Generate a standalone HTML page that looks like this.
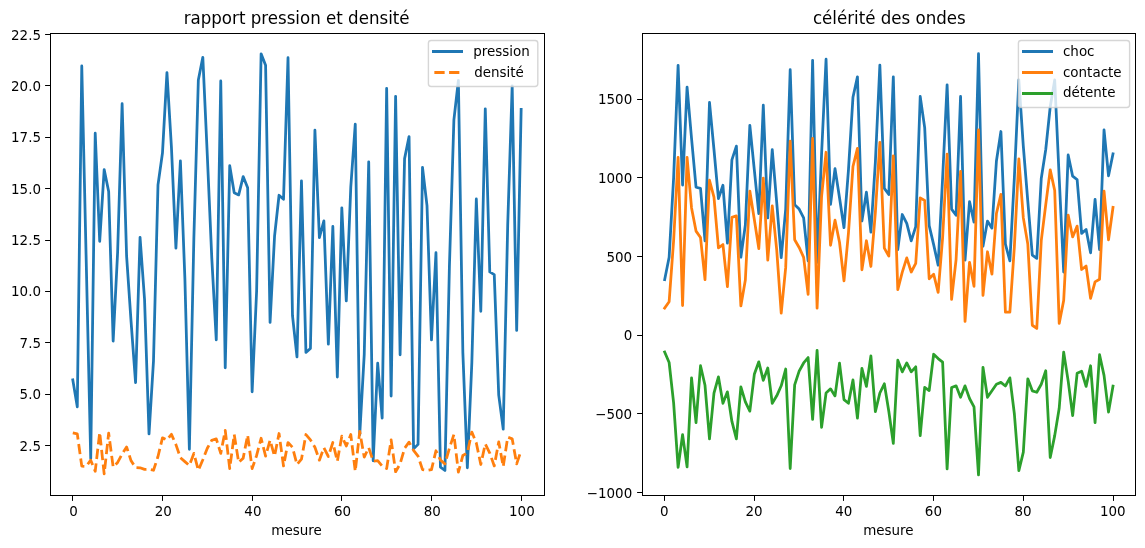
<!DOCTYPE html>
<html lang="fr"><head><meta charset="utf-8"><title>rapport pression et densité / célérité des ondes</title>
<style>html,body{margin:0;padding:0;background:#fff;}svg{display:block;will-change:transform;}text{font-family:"DejaVu Sans", "Liberation Sans", sans-serif;fill:#000;}</style></head><body>
<svg width="1145" height="548" viewBox="0 0 1145 548">
<rect x="0" y="0" width="1145" height="548" fill="#ffffff"/>
<defs>
<clipPath id="cl"><rect x="50.50" y="33.50" width="494.00" height="462.00"/></clipPath>
<clipPath id="cr"><rect x="642.50" y="33.50" width="493.00" height="462.00"/></clipPath>
</defs>
<polyline clip-path="url(#cl)" fill="none" stroke="#1f77b4" stroke-width="2.78" stroke-linejoin="round" stroke-linecap="square" points="72.80,379.92 77.28,406.78 81.77,65.92 86.25,262.28 90.73,458.51 95.22,133.26 99.70,241.31 104.18,169.60 108.67,191.45 113.15,341.08 117.63,252.02 122.12,103.70 126.60,256.12 131.09,321.82 135.57,382.55 140.05,237.35 144.54,299.24 149.02,433.88 153.50,360.83 157.99,184.88 162.47,153.06 166.95,72.70 171.44,147.31 175.92,248.08 180.40,160.77 184.89,278.71 189.37,449.27 193.85,238.67 198.34,79.98 202.82,57.30 207.31,155.53 211.79,258.18 216.27,339.85 220.76,80.91 225.24,367.77 229.72,165.70 234.21,192.69 238.69,194.91 243.17,176.58 247.66,187.76 252.14,391.79 256.62,291.02 261.11,53.81 265.59,65.19 270.07,322.40 274.56,236.21 279.04,195.26 283.52,199.22 288.01,57.71 292.49,315.66 296.98,356.89 301.46,180.89 305.94,352.37 310.43,348.51 314.91,130.18 319.39,237.61 323.88,220.92 328.36,344.16 332.84,226.47 337.33,377.01 341.81,207.78 346.29,300.84 350.78,187.14 355.26,124.02 359.74,434.70 364.23,354.67 368.71,161.80 373.19,460.77 377.68,363.20 382.16,418.07 386.65,88.30 391.13,396.10 395.61,96.31 400.10,354.84 404.58,158.61 409.06,136.54 413.55,448.86 418.03,444.38 422.51,167.34 427.00,205.62 431.48,339.85 435.96,252.74 440.45,467.17 444.93,470.42 449.41,266.39 453.90,119.80 458.38,80.29 462.86,352.62 467.35,467.75 471.83,362.88 476.32,198.96 480.80,311.31 485.28,108.83 489.77,271.93 494.25,274.60 498.73,395.11 503.22,429.15 507.70,225.33 512.18,85.84 516.67,330.41 521.15,109.33"/>
<polyline clip-path="url(#cl)" fill="none" stroke="#ff7f0e" stroke-width="2.78" stroke-linejoin="round" stroke-dasharray="10.28 4.44" stroke-linecap="butt" points="72.80,432.89 77.28,433.91 81.77,466.15 86.25,466.35 90.73,460.19 95.22,471.28 99.70,432.48 104.18,473.95 108.67,433.09 113.15,466.97 117.63,462.45 122.12,454.03 126.60,447.05 131.09,460.81 135.57,467.58 140.05,467.79 144.54,469.43 149.02,469.23 153.50,470.25 157.99,456.50 162.47,437.81 166.95,439.87 171.44,434.32 175.92,444.59 180.40,457.73 184.89,461.63 189.37,465.53 193.85,453.42 198.34,470.25 202.82,459.78 207.31,448.28 211.79,440.28 216.27,438.84 220.76,453.42 225.24,430.42 229.72,468.61 234.21,434.53 238.69,462.45 243.17,458.14 247.66,435.15 252.14,468.61 256.62,455.47 261.11,438.23 265.59,456.09 270.07,440.28 274.56,456.09 279.04,433.50 283.52,465.94 288.01,442.54 292.49,447.26 296.98,464.50 301.46,459.17 305.94,434.53 310.43,439.87 314.91,447.26 319.39,460.19 323.88,447.67 328.36,456.50 332.84,442.54 337.33,461.22 341.81,436.17 346.29,446.03 350.78,434.53 355.26,471.28 359.74,431.45 364.23,457.11 368.71,447.67 373.19,461.22 377.68,460.60 382.16,465.94 386.65,468.61 391.13,439.87 395.61,471.69 400.10,463.89 404.58,448.28 409.06,442.13 413.55,450.34 418.03,456.09 422.51,469.64 427.00,470.46 431.48,469.64 435.96,450.75 440.45,459.99 444.93,463.89 449.41,448.28 453.90,434.53 458.38,472.10 462.86,455.47 467.35,452.80 471.83,432.07 476.32,442.95 480.80,464.50 485.28,443.97 489.77,453.01 494.25,465.94 498.73,441.92 503.22,466.56 507.70,437.20 512.18,438.84 516.67,463.89 521.15,450.34"/>
<polyline clip-path="url(#cr)" fill="none" stroke="#1f77b4" stroke-width="2.78" stroke-linejoin="round" stroke-linecap="square" points="664.65,279.67 669.13,257.34 673.62,177.80 678.10,65.33 682.58,185.07 687.07,87.18 691.55,138.50 696.03,187.23 700.52,188.33 705.00,240.88 709.49,102.43 713.97,149.50 718.45,198.59 722.94,185.27 727.42,243.08 731.90,159.88 736.39,146.13 740.87,257.23 745.35,224.96 749.84,125.38 754.32,169.94 758.80,213.53 763.29,105.26 767.77,217.93 772.25,149.59 776.74,202.95 781.22,257.70 785.70,209.24 790.19,69.73 794.67,204.68 799.15,209.08 803.64,217.89 808.12,260.84 812.61,60.30 817.09,262.42 821.57,154.22 826.06,59.20 830.54,204.25 835.02,168.61 839.51,197.76 843.99,227.67 848.47,169.94 852.96,97.31 857.44,76.81 861.92,221.07 866.41,192.19 870.89,232.08 875.37,162.08 879.86,65.17 884.34,188.33 888.83,194.51 893.31,76.81 897.79,249.68 902.28,214.51 906.76,223.39 911.24,240.88 915.73,226.69 920.21,96.46 924.69,127.65 929.18,225.59 933.66,244.61 938.14,265.25 942.63,177.80 947.11,84.82 951.59,209.08 956.08,215.26 960.56,96.46 965.04,260.06 969.53,201.62 974.01,222.17 978.50,53.70 982.98,246.38 987.46,221.12 991.95,228.15 996.43,160.98 1000.91,131.51 1005.40,244.14 1009.88,260.84 1014.36,177.80 1018.85,79.95 1023.33,146.36 1027.81,201.38 1032.30,255.14 1036.78,258.33 1041.26,178.43 1045.75,149.50 1050.23,106.75 1054.71,79.95 1059.20,177.80 1063.68,272.01 1068.16,154.93 1072.65,176.23 1077.13,179.53 1081.62,233.33 1086.10,229.45 1090.58,252.83 1095.07,199.27 1099.55,249.68 1104.03,129.78 1108.52,175.80 1113.00,153.91"/>
<polyline clip-path="url(#cr)" fill="none" stroke="#ff7f0e" stroke-width="2.78" stroke-linejoin="round" stroke-linecap="square" points="664.65,308.12 669.13,301.67 673.62,240.68 678.10,157.45 682.58,305.49 687.07,157.29 691.55,207.98 696.03,231.09 700.52,237.54 705.00,279.71 709.49,180.24 713.97,197.14 718.45,247.80 722.94,244.54 727.42,286.62 731.90,217.41 736.39,215.93 740.87,305.96 745.35,279.98 749.84,191.09 754.32,219.46 758.80,248.58 763.29,178.04 767.77,260.06 772.25,205.87 776.74,250.11 781.22,313.19 785.70,267.40 790.19,141.26 794.67,239.74 799.15,247.44 803.64,257.34 808.12,294.33 812.61,138.43 817.09,308.16 821.57,196.66 826.06,152.26 830.54,245.28 835.02,220.17 839.51,242.25 843.99,280.81 848.47,232.82 852.96,166.48 857.44,148.33 861.92,269.80 866.41,240.77 870.89,266.50 875.37,212.38 879.86,142.36 884.34,248.07 888.83,256.13 893.31,155.88 897.79,289.61 902.28,272.12 906.76,257.90 911.24,272.01 915.73,263.32 920.21,197.85 924.69,200.44 929.18,278.76 933.66,274.25 938.14,292.44 942.63,237.54 947.11,154.15 951.59,299.36 956.08,259.54 960.56,171.44 965.04,321.37 969.53,262.30 974.01,286.31 978.50,129.94 982.98,295.43 987.46,251.77 991.95,274.21 996.43,213.48 1000.91,194.39 1005.40,312.21 1009.88,312.21 1014.36,246.97 1018.85,158.86 1023.33,217.89 1027.81,244.14 1032.30,325.25 1036.78,328.44 1041.26,240.68 1045.75,204.68 1050.23,169.87 1054.71,190.53 1059.20,323.41 1063.68,300.57 1068.16,215.14 1072.65,236.95 1077.13,226.15 1081.62,269.49 1086.10,266.08 1090.58,298.26 1095.07,281.87 1099.55,279.19 1104.03,191.09 1108.52,239.78 1113.00,207.35"/>
<polyline clip-path="url(#cr)" fill="none" stroke="#2ca02c" stroke-width="2.78" stroke-linejoin="round" stroke-linecap="square" points="664.65,351.98 669.13,362.51 673.62,402.91 678.10,467.40 682.58,434.75 687.07,466.93 691.55,377.84 696.03,422.60 700.52,365.74 705.00,385.30 709.49,438.95 713.97,393.01 718.45,376.90 722.94,403.27 727.42,391.84 731.90,421.46 736.39,438.95 740.87,386.96 745.35,401.81 749.84,411.13 754.32,374.30 758.80,361.81 763.29,380.32 767.77,367.94 772.25,403.27 776.74,395.84 781.22,385.78 785.70,369.04 790.19,468.51 794.67,384.83 799.15,371.16 803.64,362.98 808.12,357.57 812.61,419.30 817.09,350.33 821.57,427.32 826.06,393.01 830.54,388.85 835.02,395.88 839.51,363.07 843.99,399.61 848.47,403.27 852.96,379.89 857.44,418.20 861.92,368.41 866.41,386.45 870.89,355.84 875.37,411.60 879.86,393.01 884.34,383.82 888.83,411.56 893.31,443.35 897.79,360.24 902.28,371.83 906.76,362.91 911.24,371.83 915.73,366.84 920.21,435.65 924.69,387.43 929.18,390.53 933.66,354.26 938.14,358.58 942.63,362.20 947.11,468.82 951.59,387.50 956.08,385.86 960.56,397.29 965.04,385.86 969.53,398.51 974.01,406.84 978.50,474.95 982.98,367.31 987.46,397.29 991.95,390.81 996.43,384.20 1000.91,382.40 1005.40,385.98 1009.88,377.84 1014.36,413.76 1018.85,470.71 1023.33,452.11 1027.81,378.79 1032.30,390.81 1036.78,392.26 1041.26,384.20 1045.75,370.77 1050.23,457.50 1054.71,435.61 1059.20,408.26 1063.68,352.22 1068.16,380.90 1072.65,415.53 1077.13,373.36 1081.62,371.24 1086.10,386.45 1090.58,365.74 1095.07,422.60 1099.55,354.74 1104.03,375.40 1108.52,412.07 1113.00,386.09"/>
<rect x="50.5" y="33.5" width="494.0" height="462.0" fill="none" stroke="#000" stroke-width="1" shape-rendering="crispEdges"/>
<rect x="642.5" y="33.5" width="493.0" height="462.0" fill="none" stroke="#000" stroke-width="1" shape-rendering="crispEdges"/>
<line x1="72.5" y1="496" x2="72.5" y2="500.9" stroke="#000" stroke-width="1"/>
<text transform="translate(73.55 516.20) scale(0.970 1.000)" font-size="13.889" text-anchor="middle">0</text>
<line x1="162.5" y1="496" x2="162.5" y2="500.9" stroke="#000" stroke-width="1"/>
<text transform="translate(163.22 516.20) scale(0.970 1.000)" font-size="13.889" text-anchor="middle">20</text>
<line x1="252.5" y1="496" x2="252.5" y2="500.9" stroke="#000" stroke-width="1"/>
<text transform="translate(252.89 516.20) scale(0.970 1.000)" font-size="13.889" text-anchor="middle">40</text>
<line x1="341.5" y1="496" x2="341.5" y2="500.9" stroke="#000" stroke-width="1"/>
<text transform="translate(342.56 516.20) scale(0.970 1.000)" font-size="13.889" text-anchor="middle">60</text>
<line x1="431.5" y1="496" x2="431.5" y2="500.9" stroke="#000" stroke-width="1"/>
<text transform="translate(432.23 516.20) scale(0.970 1.000)" font-size="13.889" text-anchor="middle">80</text>
<line x1="521.5" y1="496" x2="521.5" y2="500.9" stroke="#000" stroke-width="1"/>
<text transform="translate(521.90 516.20) scale(0.970 1.000)" font-size="13.889" text-anchor="middle">100</text>
<line x1="664.5" y1="496" x2="664.5" y2="500.9" stroke="#000" stroke-width="1"/>
<text transform="translate(664.40 516.20) scale(0.970 1.000)" font-size="13.889" text-anchor="middle">0</text>
<line x1="754.5" y1="496" x2="754.5" y2="500.9" stroke="#000" stroke-width="1"/>
<text transform="translate(754.07 516.20) scale(0.970 1.000)" font-size="13.889" text-anchor="middle">20</text>
<line x1="843.5" y1="496" x2="843.5" y2="500.9" stroke="#000" stroke-width="1"/>
<text transform="translate(843.74 516.20) scale(0.970 1.000)" font-size="13.889" text-anchor="middle">40</text>
<line x1="933.5" y1="496" x2="933.5" y2="500.9" stroke="#000" stroke-width="1"/>
<text transform="translate(933.41 516.20) scale(0.970 1.000)" font-size="13.889" text-anchor="middle">60</text>
<line x1="1023.5" y1="496" x2="1023.5" y2="500.9" stroke="#000" stroke-width="1"/>
<text transform="translate(1023.08 516.20) scale(0.970 1.000)" font-size="13.889" text-anchor="middle">80</text>
<line x1="1113.5" y1="496" x2="1113.5" y2="500.9" stroke="#000" stroke-width="1"/>
<text transform="translate(1112.75 516.20) scale(0.970 1.000)" font-size="13.889" text-anchor="middle">100</text>
<line x1="45.1" y1="445.5" x2="50.0" y2="445.5" stroke="#000" stroke-width="1"/>
<text transform="translate(41.00 451.00) scale(0.970 1.000)" font-size="13.889" text-anchor="end">2.5</text>
<line x1="45.1" y1="394.5" x2="50.0" y2="394.5" stroke="#000" stroke-width="1"/>
<text transform="translate(41.00 399.00) scale(0.970 1.000)" font-size="13.889" text-anchor="end">5.0</text>
<line x1="45.1" y1="342.5" x2="50.0" y2="342.5" stroke="#000" stroke-width="1"/>
<text transform="translate(41.00 348.00) scale(0.970 1.000)" font-size="13.889" text-anchor="end">7.5</text>
<line x1="45.1" y1="291.5" x2="50.0" y2="291.5" stroke="#000" stroke-width="1"/>
<text transform="translate(41.00 296.00) scale(0.970 1.000)" font-size="13.889" text-anchor="end">10.0</text>
<line x1="45.1" y1="240.5" x2="50.0" y2="240.5" stroke="#000" stroke-width="1"/>
<text transform="translate(41.00 245.00) scale(0.970 1.000)" font-size="13.889" text-anchor="end">12.5</text>
<line x1="45.1" y1="188.5" x2="50.0" y2="188.5" stroke="#000" stroke-width="1"/>
<text transform="translate(41.00 194.00) scale(0.970 1.000)" font-size="13.889" text-anchor="end">15.0</text>
<line x1="45.1" y1="137.5" x2="50.0" y2="137.5" stroke="#000" stroke-width="1"/>
<text transform="translate(41.00 142.00) scale(0.970 1.000)" font-size="13.889" text-anchor="end">17.5</text>
<line x1="45.1" y1="85.5" x2="50.0" y2="85.5" stroke="#000" stroke-width="1"/>
<text transform="translate(41.00 91.00) scale(0.970 1.000)" font-size="13.889" text-anchor="end">20.0</text>
<line x1="45.1" y1="34.5" x2="50.0" y2="34.5" stroke="#000" stroke-width="1"/>
<text transform="translate(41.00 40.00) scale(0.970 1.000)" font-size="13.889" text-anchor="end">22.5</text>
<line x1="637.1" y1="492.5" x2="642.0" y2="492.5" stroke="#000" stroke-width="1"/>
<text transform="translate(632.20 498.00) scale(0.970 1.000)" font-size="13.889" text-anchor="end">−1000</text>
<line x1="637.1" y1="413.5" x2="642.0" y2="413.5" stroke="#000" stroke-width="1"/>
<text transform="translate(632.20 419.00) scale(0.970 1.000)" font-size="13.889" text-anchor="end">−500</text>
<line x1="637.1" y1="335.5" x2="642.0" y2="335.5" stroke="#000" stroke-width="1"/>
<text transform="translate(632.20 340.00) scale(0.970 1.000)" font-size="13.889" text-anchor="end">0</text>
<line x1="637.1" y1="256.5" x2="642.0" y2="256.5" stroke="#000" stroke-width="1"/>
<text transform="translate(632.20 262.00) scale(0.970 1.000)" font-size="13.889" text-anchor="end">500</text>
<line x1="637.1" y1="177.5" x2="642.0" y2="177.5" stroke="#000" stroke-width="1"/>
<text transform="translate(632.20 183.00) scale(0.970 1.000)" font-size="13.889" text-anchor="end">1000</text>
<line x1="637.1" y1="99.5" x2="642.0" y2="99.5" stroke="#000" stroke-width="1"/>
<text transform="translate(632.20 104.00) scale(0.970 1.000)" font-size="13.889" text-anchor="end">1500</text>
<text transform="translate(296.60 24.00) scale(1.000 1.090)" font-size="16.667" text-anchor="middle">rapport pression et densité</text>
<text transform="translate(296.50 535.00) scale(0.970 1.000)" font-size="13.889" text-anchor="middle">mesure</text>
<text transform="translate(889.35 24.00) scale(1.000 1.090)" font-size="16.667" text-anchor="middle">célérité des ondes</text>
<text transform="translate(888.40 535.00) scale(0.970 1.000)" font-size="13.889" text-anchor="middle">mesure</text>
<rect x="428.40" y="40.50" width="109.40" height="46.00" rx="2.78" ry="2.78" fill="#fff" fill-opacity="0.8" stroke="#ccc" stroke-opacity="0.8" stroke-width="1.39"/>
<rect x="432.0" y="50.0" width="31" height="3" fill="#1f77b4" shape-rendering="crispEdges"/>
<text transform="translate(473.25 55.80) scale(0.970 1.000)" font-size="13.889" text-anchor="start">pression</text>
<line x1="434.36" y1="72.5" x2="462.14" y2="72.5" stroke="#ff7f0e" stroke-width="3" stroke-linecap="butt" stroke-dasharray="10.28 4.44"/>
<text transform="translate(474.15 76.63) scale(0.970 1.000)" font-size="13.889" text-anchor="start">densité</text>
<rect x="1018.40" y="40.50" width="111.20" height="67.00" rx="2.78" ry="2.78" fill="#fff" fill-opacity="0.8" stroke="#ccc" stroke-opacity="0.8" stroke-width="1.39"/>
<rect x="1022.0" y="50.0" width="31" height="3" fill="#1f77b4" shape-rendering="crispEdges"/>
<text transform="translate(1062.95 55.80) scale(0.970 1.000)" font-size="13.889" text-anchor="start">choc</text>
<rect x="1022.0" y="71.0" width="31" height="3" fill="#ff7f0e" shape-rendering="crispEdges"/>
<text transform="translate(1062.95 76.63) scale(0.970 1.000)" font-size="13.889" text-anchor="start">contacte</text>
<rect x="1022.0" y="92.0" width="31" height="3" fill="#2ca02c" shape-rendering="crispEdges"/>
<text transform="translate(1062.95 97.46) scale(0.970 1.000)" font-size="13.889" text-anchor="start">détente</text>
</svg></body></html>
